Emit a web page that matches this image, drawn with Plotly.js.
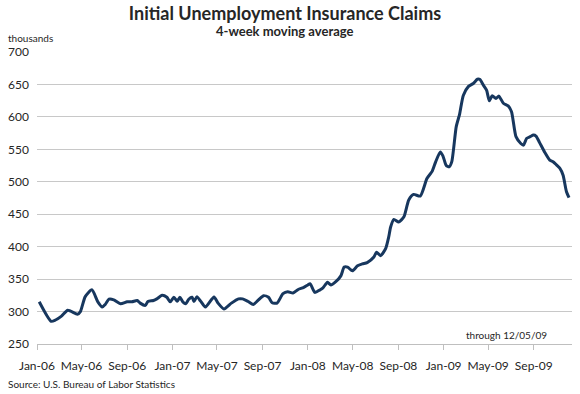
<!DOCTYPE html>
<html>
<head>
<meta charset="utf-8">
<script src="https://cdn.plot.ly/plotly-3.0.1.min.js"></script>
<style>html,body{margin:0;padding:0;background:#fff;}#chart{width:580px;height:394px;}</style>
</head>
<body>
<div id="chart"></div>
<script>
// Week-ending dates and 4-week moving average of initial claims, thousands
var dates = [
 "2006-01-07","2006-02-08","2006-02-20","2006-03-08","2006-03-25","2006-04-20","2006-04-28","2006-05-11","2006-05-29","2006-06-14",
 "2006-06-26","2006-07-04","2006-07-14","2006-07-27","2006-08-14","2006-09-01","2006-09-14","2006-09-28","2006-10-06","2006-10-20",
 "2006-10-27","2006-11-11","2006-11-20","2006-12-04","2006-12-17","2006-12-26","2007-01-05","2007-01-14","2007-01-21","2007-01-29",
 "2007-02-06","2007-02-14","2007-02-23","2007-02-28","2007-03-08","2007-03-18","2007-03-31","2007-04-23","2007-05-04","2007-05-20",
 "2007-06-09","2007-06-28","2007-07-09","2007-07-24","2007-08-07","2007-08-21","2007-09-04","2007-09-17","2007-09-27","2007-10-10",
 "2007-10-26","2007-11-08","2007-11-22","2007-12-06","2007-12-20","2008-01-01","2008-01-07","2008-01-20","2008-02-03","2008-02-10",
 "2008-02-23","2008-03-03","2008-03-17","2008-03-30","2008-04-08","2008-04-17","2008-04-30","2008-05-14","2008-05-27","2008-06-09",
 "2008-06-27","2008-07-04","2008-07-15","2008-07-29","2008-08-06","2008-08-11","2008-08-20","2008-09-02","2008-09-16","2008-09-29",
 "2008-10-12","2008-10-30","2008-11-17","2008-12-01","2008-12-10","2008-12-23","2008-12-30","2009-01-08","2009-01-16","2009-01-23",
 "2009-02-04","2009-02-13","2009-02-23","2009-03-09","2009-03-22","2009-04-02","2009-04-09","2009-04-18","2009-04-27","2009-05-04",
 "2009-05-12","2009-05-22","2009-05-30","2009-06-11","2009-06-24","2009-07-03","2009-07-15","2009-07-28","2009-08-04","2009-08-13",
 "2009-08-22","2009-08-31","2009-09-07","2009-09-17","2009-09-30","2009-10-14","2009-10-23","2009-11-01","2009-11-10","2009-11-19",
 "2009-11-28","2009-12-05"
];
var claims = [
 315,285,287,293,302,296,300,323,333.5,315,
 307,311,319,318,312,315,315,317,313,309.5,
 315.5,317,319.5,325,322,315,322,316,322,315,
 312,319,322,315.5,323,316,307,322.5,313,304,
 313,319.5,319.5,315.5,311,318,324.5,322,313.5,313,
 327.5,330.5,328.5,334,337,341,343,329.5,333.5,336,
 345,341,346.5,355,368.5,368.5,362.7,370.5,373.5,375.5,
 384,391.5,386,397.5,415,430,442,438,446,472,
 480.5,478,505,516,530,546,540,525,523,531,
 585,604,633,647,651.5,658,657.5,649,641,625,
 632.5,628.5,632,621,617,608,569.5,559,556.5,567,
 569.5,572,570.5,560,546,533.5,531,526,521,510,
 485,475.5
];
var titleText = "Initial Unemployment Insurance Claims";
var subtitleText = "4-week moving average";
var yUnitText = "thousands";
var noteText = "through 12/05/09";
var sourceText = "Source: U.S. Bureau of Labor Statistics";

var FONT = "Lato, 'Open Sans', sans-serif";
var W = 580, H = 394, L = 37, R = 8, T = 52, B = 50;
function px2x(px){ return (px - L) / (W - L - R); }
function py2y(py){ return (H - B - py) / (H - T - B); }

var trace = {
  x: dates, y: claims, type: "scatter", mode: "lines",
  line: {color: "#17375e", width: 3, shape: "spline", smoothing: 0.6},
  hoverinfo: "x+y"
};

var layout = {
  width: W, height: H,
  margin: {l: L, r: R, t: T, b: B, pad: 0},
  paper_bgcolor: "#ffffff", plot_bgcolor: "#ffffff",
  showlegend: false,
  font: {family: FONT, color: "#262626", size: 11},
  title: {
    text: "<b>" + titleText + "</b>",
    font: {family: FONT, size: 18, color: "#262626"},
    x: 285 / W, xanchor: "center", xref: "container",
    y: 1 - 14 / H, yanchor: "middle", yref: "container"
  },
  xaxis: {
    type: "date",
    range: ["2006-01-01", "2009-12-13"],
    tick0: "2006-01-01", dtick: "M4", tickformat: "%b-%y",
    showgrid: false, zeroline: false,
    showline: true, linecolor: "#bfbfbf", linewidth: 1,
    ticks: "outside", ticklen: 5, tickcolor: "#bfbfbf", tickwidth: 1,
    ticklabelstandoff: 6,
    tickfont: {family: FONT, size: 12, color: "#262626"}
  },
  yaxis: {
    range: [250, 700], dtick: 50, tick0: 250,
    showgrid: true, gridcolor: "#c8c8c8", gridwidth: 1,
    zeroline: false, showline: false, ticks: "",
    ticklabelstandoff: 7,
    tickfont: {family: FONT, size: 12, color: "#262626"}
  },
  annotations: [
    {text: "<b>" + subtitleText + "</b>", xref: "paper", yref: "paper",
     x: px2x(285), y: py2y(31), xanchor: "center", yanchor: "middle", showarrow: false,
     font: {family: FONT, size: 13, color: "#262626"}},
    {text: yUnitText, xref: "paper", yref: "paper",
     x: px2x(6), y: py2y(38), xanchor: "left", yanchor: "middle", showarrow: false,
     font: {family: FONT, size: 10, color: "#262626"}},
    {text: noteText, xref: "paper", yref: "paper",
     x: px2x(464), y: py2y(335), xanchor: "left", yanchor: "middle", showarrow: false,
     font: {family: FONT, size: 10, color: "#262626"}},
    {text: sourceText, xref: "paper", yref: "paper",
     x: px2x(6), y: py2y(384), xanchor: "left", yanchor: "middle", showarrow: false,
     font: {family: FONT, size: 10, color: "#262626"}}
  ]
};

Plotly.newPlot("chart", [trace], layout, {staticPlot: true, displayModeBar: false});
</script>
</body>
</html>
